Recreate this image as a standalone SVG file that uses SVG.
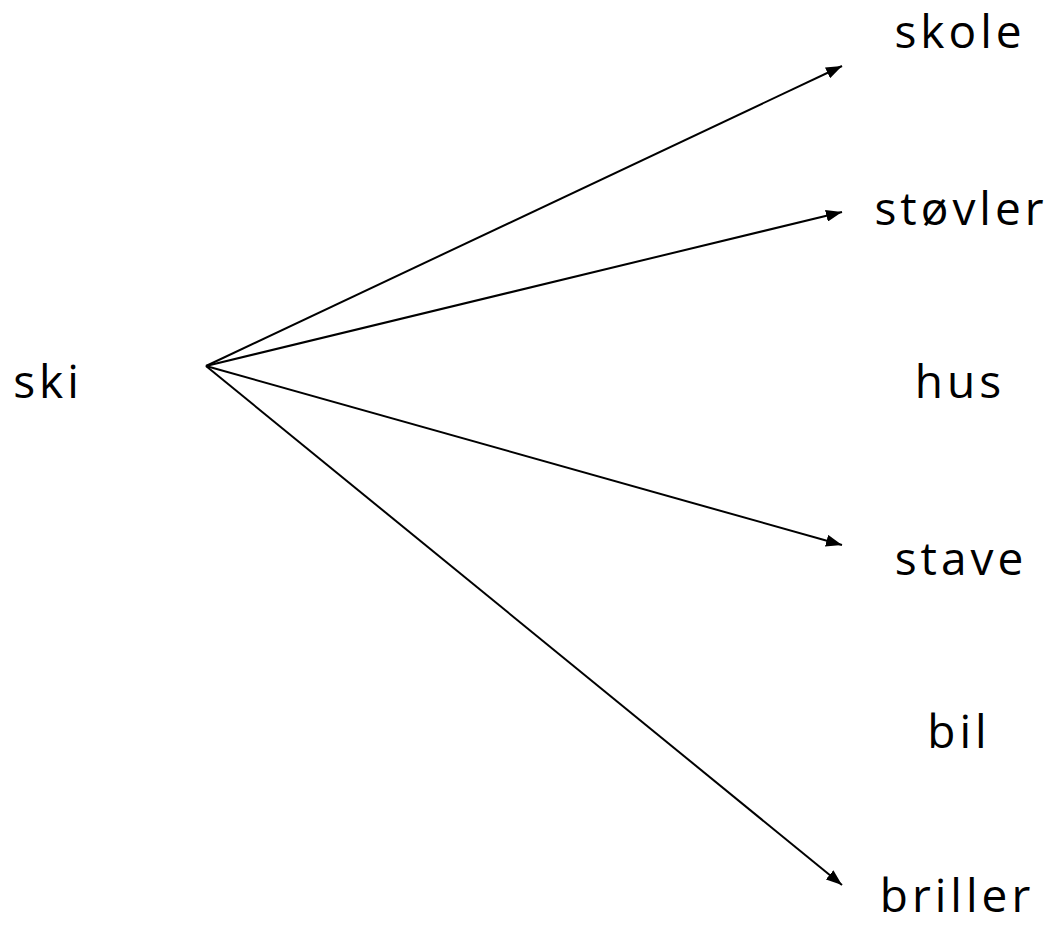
<svg xmlns="http://www.w3.org/2000/svg" width="1049" height="926" viewBox="0 0 1049 926">
<style>
text{font-family:"Comic Sans MS","Open Sans","Noto Sans",sans-serif;font-size:46px;letter-spacing:4px;fill:#000;text-anchor:middle}
.c line{stroke:#000;stroke-width:2;marker-end:url(#a)}
</style>
<defs><marker id="a" viewBox="0 0 10 10" refX="10" refY="5" markerWidth="16" markerHeight="12" markerUnits="userSpaceOnUse" orient="auto" preserveAspectRatio="none"><path d="M0,0L10,5L0,10Z" fill="#000"/></marker></defs>
<rect width="1049" height="926" fill="#fff"/>
<g class="c" id="connectors">
<line x1="206" y1="366" x2="842" y2="66"/>
<line x1="206" y1="366" x2="842" y2="212"/>
<line x1="206" y1="366" x2="842" y2="545"/>
<line x1="206" y1="366" x2="842" y2="885"/>
</g>
<g id="ski"><text x="48" y="398">ski</text></g>
<g id="skole"><text x="960" y="48">skole</text></g>
<g id="stovler"><text x="961" y="225">støvler</text></g>
<g id="hus"><text x="960" y="398">hus</text></g>
<g id="stave"><text x="961" y="575">stave</text></g>
<g id="bil"><text x="959" y="748">bil</text></g>
<g id="briller"><text x="957" y="912">briller</text></g>
</svg>
